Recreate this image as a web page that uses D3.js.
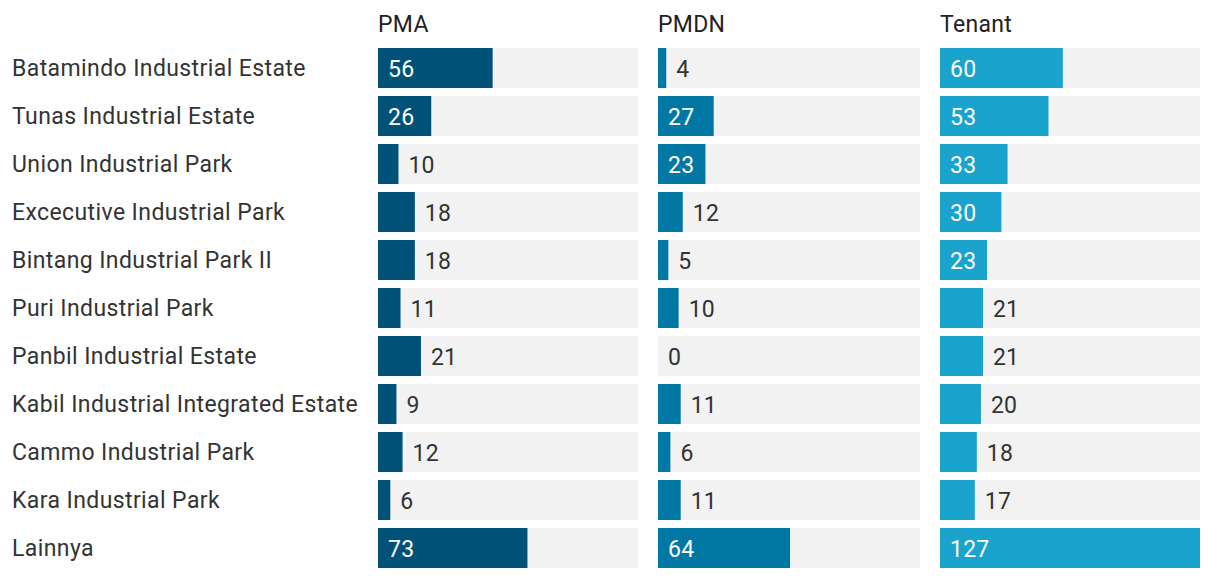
<!DOCTYPE html>
<html><head><meta charset="utf-8">
<script src="https://cdn.jsdelivr.net/npm/d3@7"></script>
<style>
html,body{margin:0;padding:0;background:#fff;}
svg{display:block;font-family:Roboto,"Noto Sans",sans-serif;}
</style></head>
<body><svg id="chart" width="1220" height="578"></svg>
<script>
const categories = ["Batamindo Industrial Estate","Tunas Industrial Estate","Union Industrial Park","Excecutive Industrial Park","Bintang Industrial Park II","Puri Industrial Park","Panbil Industrial Estate","Kabil Industrial Integrated Estate","Cammo Industrial Park","Kara Industrial Park","Lainnya"];
const seriesNames = ["PMA","PMDN","Tenant"];
const pma = [56,26,10,18,18,11,21,9,12,6,73];
const pmdn = [4,27,23,12,5,10,0,11,6,11,64];
const tenant = [60,53,33,30,23,21,21,20,18,17,127];
const colors = ["#005279","#0078a3","#19a3cd"];

const seriesValues = [pma, pmdn, tenant];
const svg = d3.select("#chart");
const colX = [378, 658, 940];
const colW = [260, 262, 260];
const maxV = d3.max(seriesValues.flat());
const step = 48, bh = 40;
const y = d3.scaleBand().domain(d3.range(categories.length))
  .range([48, 48 + step*categories.length - (step-bh)]).paddingInner((step-bh)/step).paddingOuter(0);

const fs = 23;
svg.selectAll("text.cat").data(categories).join("text")
  .attr("class","cat")
  .attr("x", 12).attr("y", (d,i)=> y(i)+bh/2 + 8)
  .attr("font-size", fs).attr("letter-spacing", 0.4).attr("fill","#333")
  .text(d=>d);

seriesNames.forEach((name, s) => {
  const x = d3.scaleLinear().domain([0, maxV]).range([0, colW[s]]);
  const g = svg.append("g").attr("transform", `translate(${colX[s]},0)`);
  g.append("text").attr("x",0).attr("y",32.3).attr("font-size",fs).attr("letter-spacing",0.3).attr("fill","#222").text(name);
  const vals = seriesValues[s];
  g.selectAll("rect.bg").data(vals).join("rect").attr("class","bg")
    .attr("x",0).attr("y",(d,i)=>y(i)).attr("width",colW[s]).attr("height",y.bandwidth()).attr("fill","#f2f2f2");
  g.selectAll("rect.bar").data(vals).join("rect").attr("class","bar")
    .attr("x",0).attr("y",(d,i)=>y(i)).attr("width",d=>x(d)).attr("height",y.bandwidth()).attr("fill",colors[s]);
  g.selectAll("text.val").data(vals).join("text").attr("class","val")
    .attr("x", d => d >= 22 ? 10 : x(d) + 10)
    .attr("y",(d,i)=>y(i)+bh/2 + 8.5)
    .attr("font-size",fs).attr("letter-spacing",0.2)
    .attr("fill", d => d >= 22 ? "#fff" : "#333")
    .text(d=>d);
});
</script></body></html>
